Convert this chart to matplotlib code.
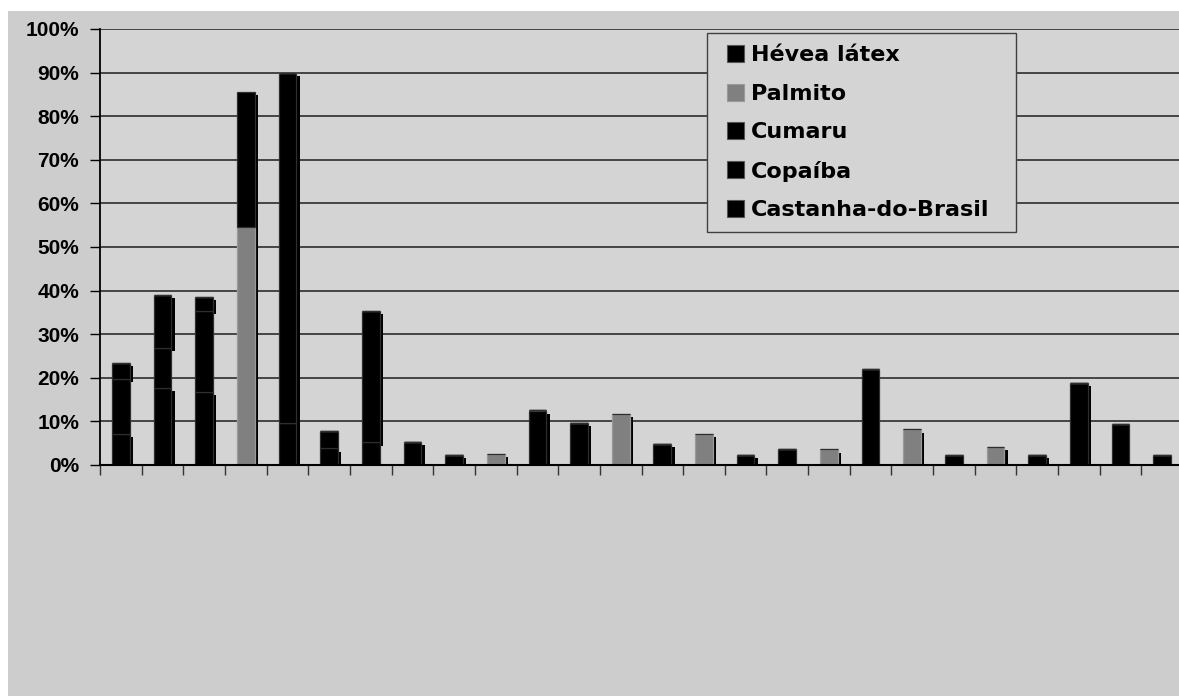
import matplotlib
matplotlib.use("Agg")
import numpy as np
import matplotlib.pyplot as plt
from matplotlib.patches import Patch, Rectangle
from matplotlib.legend_handler import HandlerPatch
from matplotlib.ticker import MultipleLocator, PercentFormatter

# shares per locality (%), stacked bottom -> top
castanha = [7.1, 17.7, 16.7, 0, 9.7, 3.8, 0, 5.3, 2.3, 0, 12.5, 9.7, 0,
            4.8, 0, 2.4, 0, 0, 0, 0, 0, 0, 2.3, 18.8, 0, 0]
copaiba = [12.6, 9.2, 18.7, 0, 0, 4.1, 5.2, 0, 0, 0, 0, 0, 0,
           0, 0, 0, 3.6, 0, 22.0, 0, 2.4, 0, 0, 0, 9.3, 2.3]
cumaru = [3.7, 12.1, 3.2, 0, 80.3, 0, 30.2, 0, 0, 0, 0, 0, 0,
          0, 0, 0, 0, 0, 0, 0, 0, 0, 0, 0, 0, 0]
palmito = [0, 0, 0, 54.5, 0, 0, 0, 0, 0, 2.5, 0, 0, 11.7,
           0, 7.1, 0, 0, 3.6, 0, 8.2, 0, 4.2, 0, 0, 0, 0]
hevea = [0, 0, 0, 31.1, 0, 0, 0, 0, 0, 0, 0, 0, 0,
         0, 0, 0, 0, 0, 0, 0, 0, 0, 0, 0, 0, 0]

series = [
    ("Castanha-do-Brasil", castanha, "black", True),
    ("Copaíba", copaiba, "black", False),
    ("Cumaru", cumaru, "black", True),
    ("Palmito", palmito, "#808080", True),
    ("Hévea látex", hevea, "black", True),
]

W, H = 1179, 696
fig = plt.figure(figsize=(W / 100, H / 100), dpi=100, facecolor="white")
fig.patches.append(Rectangle((8 / W, 0), 1, (H - 11) / H, transform=fig.transFigure,
                             facecolor="#cdcdcd", edgecolor="none", zorder=-1))

ax = fig.add_axes([100 / W, (H - 465) / H, 1083 / W, 436 / H])
ax.set_facecolor("#d4d4d4")

n = len(castanha)
x = np.arange(n) + 0.5
width = 0.425
dx, dy = 0.08, 0.75  # drop shadow offset

bottom = np.zeros(n)
for name, vals, color, shadow in series:
    vals = np.array(vals, dtype=float)
    if shadow:
        ax.bar(x + dx, vals, width, bottom=bottom - dy, color="black",
               edgecolor="none", zorder=2)
    edge = "#9a9a9a" if color != "black" else "#2e2e2e"
    ax.bar(x, vals, width, bottom=bottom, color=color, edgecolor=edge,
           linewidth=0.9, zorder=3)
    bottom += vals

ax.set_xlim(0, n)
ax.set_ylim(0, 100)
ax.yaxis.set_major_locator(MultipleLocator(10))
ax.yaxis.set_major_formatter(PercentFormatter(decimals=0))
ax.set_xticks(np.arange(n + 1))
ax.set_xticklabels([])
ax.tick_params(axis="x", direction="out", length=7, width=1, color="#333333")
ax.tick_params(axis="y", direction="out", length=7, width=1, color="black", pad=8)
for lab in ax.get_yticklabels():
    lab.set_fontfamily("Liberation Sans")
    lab.set_fontweight("bold")
    lab.set_fontsize(15)

ax.grid(axis="y", color="#1e1e1e", linewidth=1.1)
ax.set_axisbelow(True)
for side in ("top", "right"):
    ax.spines[side].set_visible(False)
ax.spines["left"].set_color("black")
ax.spines["left"].set_linewidth(1.3)
ax.spines["bottom"].set_color("black")
ax.spines["bottom"].set_linewidth(1.5)
ax.spines["bottom"].set_zorder(4)


def square_key(legend, orig_handle, xdescent, ydescent, width, height, fontsize):
    # square swatch pushed to the right end of the handle box
    s = height
    return Rectangle((width - xdescent - s, -ydescent), s, s)


handles = []
for name, vals, color, shadow in reversed(series):
    edge = "#9a9a9a" if color != "black" else "#555555"
    handles.append(Patch(facecolor=color, edgecolor=edge, linewidth=0.8, label=name))

lx0 = (707 - 100) / 1083
lw = (1016 - 707) / 1083
ltop = (465 - 33) / 436
lh = (229 - 33) / 436
leg = ax.legend(handles=handles, loc="upper left",
                bbox_to_anchor=(lx0, ltop - lh, lw, lh), mode="expand",
                borderaxespad=0, prop={"family": "DejaVu Sans", "weight": "bold", "size": 16},
                handlelength=1.12, handleheight=0.8, handletextpad=0.3,
                labelspacing=0.82, borderpad=0.55, fancybox=False, framealpha=1,
                facecolor="#d4d4d4", edgecolor="#404040",
                handler_map={Patch: HandlerPatch(patch_func=square_key)})
leg.get_frame().set_linewidth(1.0)
leg.set_zorder(5)

fig.savefig("out.png", dpi=100, facecolor=fig.get_facecolor())
